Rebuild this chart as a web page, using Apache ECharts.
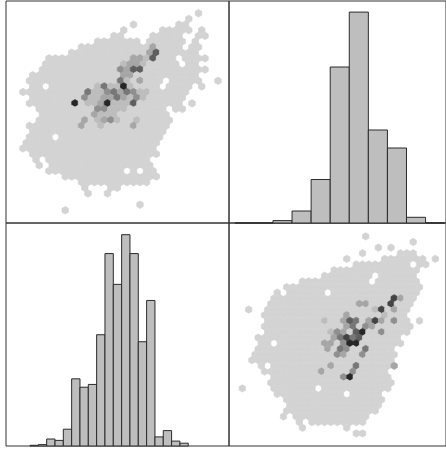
<!DOCTYPE html>
<html><head><meta charset="utf-8">
<script src="https://cdn.jsdelivr.net/npm/echarts@6/dist/echarts.min.js"></script>
<style>html,body{margin:0;padding:0;background:#fff;overflow:hidden}#c{width:446px;height:450px}</style>
</head><body><div id="c"></div><script>
// Hexbin cells: one string per hex row (top to bottom), one char per column; '.' = empty, digit = count level
const hexRowsTL = [
"..........|..........|..........|....",
"..........|..........|..........|....",
"..........|..........|.........1|....",
"..........|..........|.......1..|....",
"..........|.........1|......11..|....",
"..........|.......1..|...11111.1|....",
"..........|......11..|..11111..1|1...",
"..........|...1111111|.111111.1.|....",
"..........|.111111111|1131111.11|....",
".........1|1111111111|136111111.|....",
"......1111|1111111113|326111.111|1...",
".....11111|1111111233|211111.11.|....",
".....11111|1111111436|6111111111|1...",
"...1111111|1111111331|111111111.|....",
"...1111111|1111111521|3111.11111|..1.",
"...11.1111|1112522821|111.1111.1|....",
"..11111111|1152245354|22111111..|....",
"...1111111|1422335324|2111111...|....",
"...1111111|8122382226|1111111.1.|....",
"....111111|1114422211|1111.11...|....",
".....11111|1113222111|11111.....|....",
"....111111|1312342112|11111.....|....",
"...1111111|1311211113|11111.....|....",
"...1111111|1111111111|1111......|....",
"...1111.11|1111111111|1111......|....",
"..11111111|1111111111|111.......|....",
"..11111111|1111111111|111.......|....",
"...1111111|1111111111|111.......|....",
"....1.1111|1111111111|11........|....",
"....1.1111|1111111111|11........|....",
"......1111|11111111.1|.11.......|....",
"........11|1111111111|111.......|....",
"..........|.111111111|11........|....",
"..........|.1...11...|..........|....",
"..........|..1..1....|..........|....",
"..........|..........|..........|....",
"..........|..........|1.........|....",
"........1.|..........|..........|...."
];
const hexRowsBR = [
"..........|..........|..........|....",
"..........|..........|..........|....",
"..........|..........|.1........|....",
"..........|..........|........1.|....",
"..........|..........|...1.1....|....",
"..........|..........|1.....111.|....",
"..........|........1.|....111111|1.1.",
"..........|.........1|11111111.1|1...",
"..........|......1111|1111111111|....",
"..........|....111111|11.111111.|....",
"..........|.111111111|11.1111111|....",
"........11|1111111111|1111111111|....",
".......1.1|11111.1111|1111111111|....",
"......1111|1111111111|111117311.|....",
"......1111|1111111111|331117111.|....",
"..1..11111|1111111111|11271311..|....",
".....11111|1111111131|11112111..|....",
".....11111|1111211365|13731411.1|....",
".....11111|1111111135|143111111.|....",
".....11111|1111124316|81141111..|....",
"....111111|1111113575|6111111...|....",
"....11.111|1111331488|1111111...|....",
"....111111|1111131541|151111....|....",
"...1111111|1111114311|411111....|....",
"...1111111|1111111111|111111....|....",
"....1.1111|1111131115|111113....|....",
".....11111|1111311114|11111.....|....",
"......1111|1111111481|11111.....|....",
"......1111|1111111111|111111....|....",
".1....1111|111.111111|11111.....|....",
".......111|11111111.1|1111......|....",
"........11|1111111111|1111......|....",
".........1|1111111111|1111......|....",
"........11|1111111111|111.......|....",
"........1.|1111111111|11........|....",
"..........|1.11111111|1.........|....",
"..........|.1......1.|..........|....",
"..........|.........1|1.........|...."
];
// Histogram bin counts
const histTRCounts = [0, 0, 8, 40, 145, 520, 703, 310, 250, 19, 0];
const histBLCounts = [1, 2, 10, 8, 24, 96, 84, 88, 159, 275, 231, 302, 275, 149, 208, 13, 22, 7, 4];
const grayLevels = ['#d3d3d3','#bdbdbd','#a6a6a6','#8f8f8f','#777777','#5e5e5e','#444444','#262626'];

function hexData(rows){
  const out = [];
  rows.forEach((line, r) => {
    const s = line.replace(/\|/g, '');
    for (let c = 0; c < s.length; c++) {
      if (s[c] !== '.') out.push([c + (r % 2 ? 0.5 : 0), r, +s[c]]);
    }
  });
  return out;
}
function renderHex(params, api){
  const p = api.coord([api.value(0), api.value(1)]);
  const w = api.size([1, 0])[0];
  const R = w / Math.sqrt(3);
  const pts = [];
  for (let k = 0; k < 6; k++) {
    const a = Math.PI / 180 * (60 * k - 90);
    pts.push([p[0] + R * Math.cos(a), p[1] + R * Math.sin(a)]);
  }
  const col = grayLevels[api.value(2) - 1];
  return {type: 'polygon', shape: {points: pts}, style: {fill: col, stroke: col, lineWidth: 0.7}};
}
function renderBar(params, api){
  const i = api.value(0), v = api.value(1);
  const a = api.coord([i, v]), b = api.coord([i + 1, 0]);
  if (v > 0) {
    return {type: 'rect', shape: {x: a[0], y: a[1], width: b[0] - a[0], height: b[1] - a[1]},
      style: {fill: '#bebebe', stroke: '#2b2b2b', lineWidth: 1}};
  }
  return {type: 'line', shape: {x1: a[0], y1: b[1], x2: b[0], y2: b[1]}, style: {stroke: '#2b2b2b', lineWidth: 1.5}};
}
const gridStyle = {show: true, borderColor: '#333', borderWidth: 1, backgroundColor: 'transparent'};
const chart = echarts.init(document.getElementById('c'), null, {renderer: 'canvas'});
chart.setOption({
  animation: false,
  backgroundColor: '#fff',
  grid: [
    Object.assign({left: 6, top: 1, width: 223, height: 222}, gridStyle),
    Object.assign({left: 229, top: 1, width: 223, height: 222}, gridStyle),
    Object.assign({left: 6, top: 223, width: 223, height: 223}, gridStyle),
    Object.assign({left: 229, top: 223, width: 223, height: 223}, gridStyle)
  ],
  xAxis: [
    {gridIndex: 0, type: 'value', min: -0.615, max: 33.692, show: false},
    {gridIndex: 1, type: 'value', min: -0.306, max: 11.071, show: false},
    {gridIndex: 2, type: 'value', min: -2.881, max: 23.89, show: false},
    {gridIndex: 3, type: 'value', min: -0.615, max: 33.692, show: false}
  ],
  yAxis: [
    {gridIndex: 0, type: 'value', inverse: true, min: -0.178, max: 39.253, show: false},
    {gridIndex: 1, type: 'value', min: 0, max: 740, show: false},
    {gridIndex: 2, type: 'value', min: 0, max: 318.7, show: false},
    {gridIndex: 3, type: 'value', inverse: true, min: -0.373, max: 39.236, show: false}
  ],
  series: [
    {type: 'custom', xAxisIndex: 0, yAxisIndex: 0, renderItem: renderHex, data: hexData(hexRowsTL), encode: {x: 0, y: 1}, clip: true, silent: true},
    {type: 'custom', xAxisIndex: 1, yAxisIndex: 1, renderItem: renderBar, data: histTRCounts.map((v, i) => [i, v]), encode: {x: 0, y: 1}, silent: true},
    {type: 'custom', xAxisIndex: 2, yAxisIndex: 2, renderItem: renderBar, data: histBLCounts.map((v, i) => [i, v]), encode: {x: 0, y: 1}, silent: true},
    {type: 'custom', xAxisIndex: 3, yAxisIndex: 3, renderItem: renderHex, data: hexData(hexRowsBR), encode: {x: 0, y: 1}, clip: true, silent: true}
  ]
});
</script></body></html>
